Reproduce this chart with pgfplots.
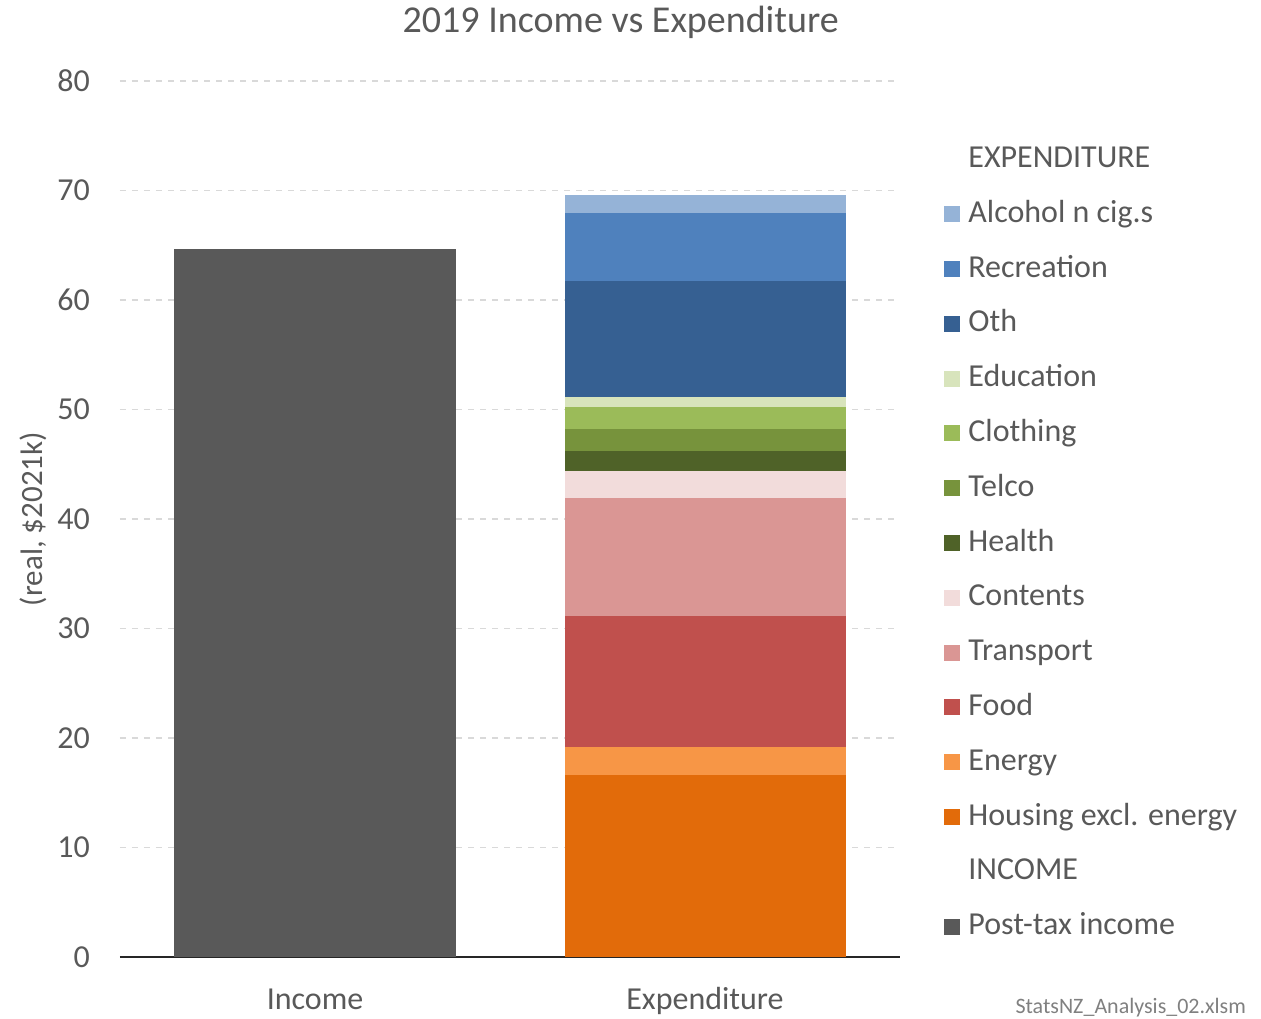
\documentclass[border=0pt]{standalone}
\usepackage{fontspec}
\setmainfont{Carlito}
\usepackage{pgfplots}
\pgfplotsset{compat=1.18}

\definecolor{txt}{HTML}{595959}
\definecolor{gridc}{HTML}{D9D9D9}
\definecolor{cIncome}{HTML}{595959}
\definecolor{cHousing}{HTML}{E26B0A}
\definecolor{cEnergy}{HTML}{F79646}
\definecolor{cFood}{HTML}{C0504D}
\definecolor{cTransport}{HTML}{DA9694}
\definecolor{cContents}{HTML}{F2DCDB}
\definecolor{cHealth}{HTML}{4F6228}
\definecolor{cTelco}{HTML}{77933C}
\definecolor{cClothing}{HTML}{9BBB59}
\definecolor{cEducation}{HTML}{D8E4BC}
\definecolor{cOth}{HTML}{366092}
\definecolor{cRecreation}{HTML}{4F81BD}
\definecolor{cAlcohol}{HTML}{95B3D7}

\pgfplotsset{sq/.style={legend image code/.code={\fill[##1] (0pt,-4pt) rectangle (8pt,4pt);}}}

\begin{document}
\begin{tikzpicture}
\begin{axis}[
    name=ax,
    scale only axis,
    width=390pt, height=438pt,
    ybar stacked,
    bar width=140.5pt,
    xmin=-0.5, xmax=1.5,
    ymin=0, ymax=80,
    xtick={0,1},
    xticklabels={Income, Expenditure},
    ytick={0,10,...,80},
    major tick length=0pt,
    axis line style={draw=none},
    ymajorgrids=true,
    grid style={dashed, gridc, line width=0.6pt},
    /pgf/number format/assume math mode=true,
    tick label style={font=\fontsize{16}{19}\selectfont, text=txt},
    yticklabel style={xshift=-11.5pt},
    xticklabel style={yshift=-11pt, text height=11.5pt, text depth=3pt},
    ylabel={(real, \$2021k)},
    ylabel style={at={(axis description cs:-0.1115,0.5)}, anchor=center,
                  font=\fontsize{15.5}{18}\selectfont, text=txt},
    title={2019 Income vs Expenditure},
    title style={at={(axis description cs:0.642,1)}, anchor=base, yshift=18.5pt,
                 font=\fontsize{19}{22}\selectfont, text=txt},
    reverse legend,
    legend style={at={(1,1)}, anchor=north west, xshift=22pt, yshift=-32pt,
                  draw=none, fill=none, inner sep=0pt,
                  font=\fontsize{16}{19}\selectfont, text=txt,
                  nodes={text height=11pt, text depth=3pt, inner sep=0pt},
                  row sep=13.4pt, column sep=4pt},
    legend cell align=left,
]
\addplot[fill=cIncome, draw=none, sq] coordinates {(0,64.66) (1,0)};
\addlegendentry{Post-tax income}
\addlegendimage{empty legend}
\addlegendentry{INCOME}
\addplot[fill=cHousing, draw=none, sq] coordinates {(0,0) (1,16.62)};
\addlegendentry{Housing excl. energy}
\addplot[fill=cEnergy, draw=none, sq] coordinates {(0,0) (1,2.56)};
\addlegendentry{Energy}
\addplot[fill=cFood, draw=none, sq] coordinates {(0,0) (1,11.96)};
\addlegendentry{Food}
\addplot[fill=cTransport, draw=none, sq] coordinates {(0,0) (1,10.82)};
\addlegendentry{Transport}
\addplot[fill=cContents, draw=none, sq] coordinates {(0,0) (1,2.42)};
\addlegendentry{Contents}
\addplot[fill=cHealth, draw=none, sq] coordinates {(0,0) (1,1.83)};
\addlegendentry{Health}
\addplot[fill=cTelco, draw=none, sq] coordinates {(0,0) (1,2.01)};
\addlegendentry{Telco}
\addplot[fill=cClothing, draw=none, sq] coordinates {(0,0) (1,2.01)};
\addlegendentry{Clothing}
\addplot[fill=cEducation, draw=none, sq] coordinates {(0,0) (1,0.91)};
\addlegendentry{Education}
\addplot[fill=cOth, draw=none, sq] coordinates {(0,0) (1,10.59)};
\addlegendentry{Oth}
\addplot[fill=cRecreation, draw=none, sq] coordinates {(0,0) (1,6.21)};
\addlegendentry{Recreation}
\addplot[fill=cAlcohol, draw=none, sq] coordinates {(0,0) (1,1.64)};
\addlegendentry{Alcohol n cig.s}
\addlegendimage{empty legend}
\addlegendentry{EXPENDITURE}
\draw[black!85, line width=1pt] (rel axis cs:0,0) -- (rel axis cs:1,0);
\end{axis}
\node[anchor=base east, font=\fontsize{11}{13}\selectfont, text=black!50,
      xshift=176.5pt, yshift=-28pt] at (ax.south east) {StatsNZ\_Analysis\_02.xlsm};
\pgfresetboundingbox
\path (-60pt,-30.5pt) rectangle (570.5pt,478.5pt);
\end{tikzpicture}
\end{document}
